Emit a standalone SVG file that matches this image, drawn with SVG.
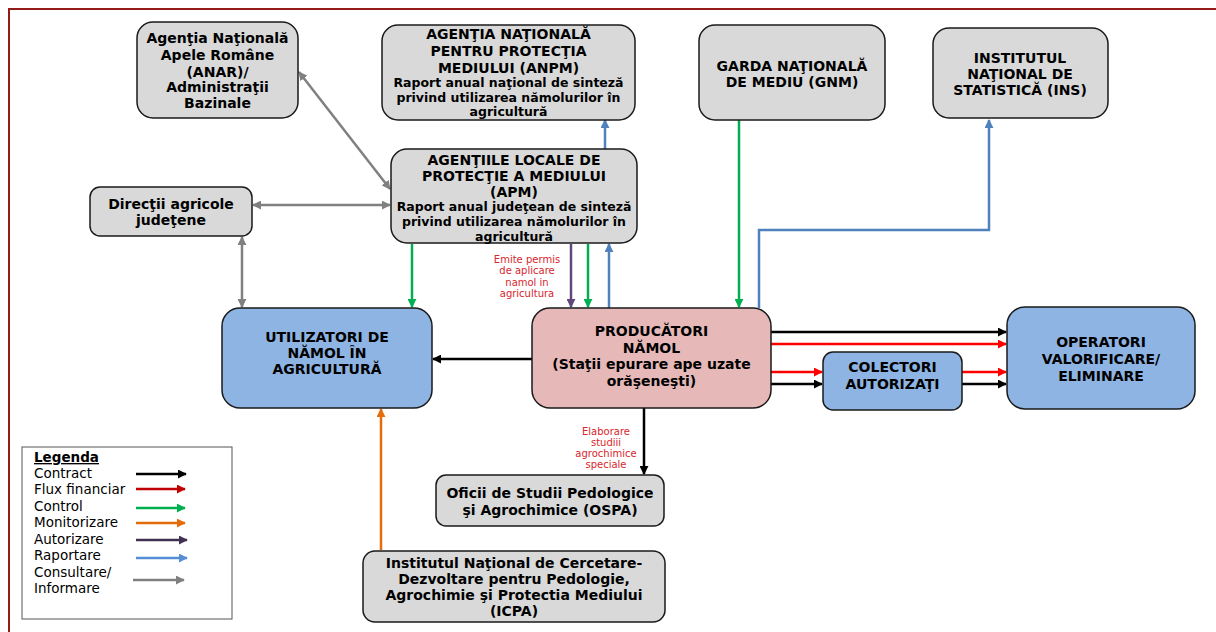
<svg xmlns="http://www.w3.org/2000/svg" width="1216" height="632" viewBox="0 0 1216 632">
  <style>
    .box { stroke: #1a1a1a; stroke-width: 1.5; }
    .grey { fill: #d9d9d9; }
    .blue { fill: #8eb4e3; }
    .pink { fill: #e6b9b8; }
    .t { font-family: "DejaVu Sans", Verdana, sans-serif; font-weight: bold; font-size: 14px; fill: #000; text-anchor: middle; }
    .s { font-family: "DejaVu Sans", Verdana, sans-serif; font-weight: bold; font-size: 12.5px; fill: #000; text-anchor: middle; }
    .note { font-family: "DejaVu Sans", Verdana, sans-serif; font-size: 10px; fill: #d9262b; text-anchor: middle; }
    .leg { font-family: "DejaVu Sans", Verdana, sans-serif; font-size: 13.5px; fill: #000; }
    .c { fill: none; stroke-width: 2.5; }
    .k { stroke: #000; }
    .r { stroke: #ff0000; }
    .g { stroke: #00b050; }
    .o { stroke: #e46c0a; }
    .p { stroke: #5f497a; }
    .b { stroke: #4f81bd; }
    .y { stroke: #808080; }
  </style>
  <defs>
    <marker id="ak" viewBox="0 0 10 10" refX="9" refY="5" markerWidth="9" markerHeight="9" markerUnits="userSpaceOnUse" orient="auto-start-reverse"><path d="M0,0 L10,5 L0,10 z" fill="#000"/></marker>
    <marker id="ar" viewBox="0 0 10 10" refX="9" refY="5" markerWidth="9" markerHeight="9" markerUnits="userSpaceOnUse" orient="auto-start-reverse"><path d="M0,0 L10,5 L0,10 z" fill="#ff0000"/></marker>
    <marker id="ar2" viewBox="0 0 10 10" refX="9" refY="5" markerWidth="9" markerHeight="9" markerUnits="userSpaceOnUse" orient="auto-start-reverse"><path d="M0,0 L10,5 L0,10 z" fill="#c00000"/></marker>
    <marker id="ag" viewBox="0 0 10 10" refX="9" refY="5" markerWidth="9" markerHeight="9" markerUnits="userSpaceOnUse" orient="auto-start-reverse"><path d="M0,0 L10,5 L0,10 z" fill="#00b050"/></marker>
    <marker id="ao" viewBox="0 0 10 10" refX="9" refY="5" markerWidth="9" markerHeight="9" markerUnits="userSpaceOnUse" orient="auto-start-reverse"><path d="M0,0 L10,5 L0,10 z" fill="#e46c0a"/></marker>
    <marker id="ap" viewBox="0 0 10 10" refX="9" refY="5" markerWidth="9" markerHeight="9" markerUnits="userSpaceOnUse" orient="auto-start-reverse"><path d="M0,0 L10,5 L0,10 z" fill="#5f497a"/></marker>
    <marker id="ap2" viewBox="0 0 10 10" refX="9" refY="5" markerWidth="9" markerHeight="9" markerUnits="userSpaceOnUse" orient="auto-start-reverse"><path d="M0,0 L10,5 L0,10 z" fill="#403152"/></marker>
    <marker id="ab" viewBox="0 0 10 10" refX="9" refY="5" markerWidth="9" markerHeight="9" markerUnits="userSpaceOnUse" orient="auto-start-reverse"><path d="M0,0 L10,5 L0,10 z" fill="#4f81bd"/></marker>
    <marker id="ab2" viewBox="0 0 10 10" refX="9" refY="5" markerWidth="9" markerHeight="9" markerUnits="userSpaceOnUse" orient="auto-start-reverse"><path d="M0,0 L10,5 L0,10 z" fill="#558ed5"/></marker>
    <marker id="ay" viewBox="0 0 10 10" refX="9" refY="5" markerWidth="9" markerHeight="9" markerUnits="userSpaceOnUse" orient="auto-start-reverse"><path d="M0,0 L10,5 L0,10 z" fill="#808080"/></marker>
  </defs>

  <rect width="1216" height="632" fill="#fff"/>
  <!-- page frame -->
  <path d="M9,632 L9,9 L1216,9" fill="none" stroke="#951b1b" stroke-width="2"/>

  <!-- connectors -->
  <g id="connectors">
    <!-- consultation / information -->
    <line class="c y" x1="299" y1="72" x2="390" y2="189" marker-start="url(#ay)" marker-end="url(#ay)"/>
    <line class="c y" x1="253" y1="205" x2="390" y2="205" marker-start="url(#ay)" marker-end="url(#ay)"/>
    <line class="c y" x1="242" y1="237" x2="242" y2="307" marker-start="url(#ay)" marker-end="url(#ay)"/>
    <!-- control -->
    <line class="c g" x1="412" y1="244" x2="412" y2="307" marker-end="url(#ag)"/>
    <line class="c g" x1="588" y1="244" x2="588" y2="307" marker-end="url(#ag)"/>
    <line class="c g" x1="739" y1="120" x2="739" y2="307" marker-end="url(#ag)"/>
    <!-- authorisation -->
    <line class="c p" x1="571" y1="244" x2="571" y2="307" marker-end="url(#ap)"/>
    <!-- reporting -->
    <line class="c b" x1="609" y1="308" x2="609" y2="244" marker-end="url(#ab)"/>
    <line class="c b" x1="605" y1="149" x2="605" y2="120" marker-end="url(#ab)"/>
    <path class="c b" d="M759,308 L759,230 L989,230 L989,120" stroke-width="2" marker-end="url(#ab)"/>
    <!-- contracts -->
    <line class="c k" x1="532" y1="359" x2="433" y2="359" marker-end="url(#ak)"/>
    <line class="c k" x1="771" y1="332" x2="1006" y2="332" marker-end="url(#ak)"/>
    <line class="c k" x1="771" y1="384" x2="822" y2="384" marker-end="url(#ak)"/>
    <line class="c k" x1="962" y1="384" x2="1006" y2="384" marker-end="url(#ak)"/>
    <line class="c k" x1="644" y1="408" x2="644" y2="474" marker-end="url(#ak)"/>
    <!-- financial flows -->
    <line class="c r" x1="771" y1="344" x2="1006" y2="344" marker-end="url(#ar)"/>
    <line class="c r" x1="771" y1="372" x2="822" y2="372" marker-end="url(#ar)"/>
    <line class="c r" x1="962" y1="372" x2="1006" y2="372" marker-end="url(#ar)"/>
    <!-- monitoring -->
    <line class="c o" x1="381" y1="550" x2="381" y2="409" marker-end="url(#ao)"/>
    <!-- connector labels -->
    <text class="note" x="527" y="263">Emite permis</text>
    <text class="note" x="527" y="274">de aplicare</text>
    <text class="note" x="527" y="286">namol in</text>
    <text class="note" x="527" y="297">agricultura</text>
    <text class="note" x="606" y="435">Elaborare</text>
    <text class="note" x="606" y="446">studiii</text>
    <text class="note" x="606" y="457">agrochimice</text>
    <text class="note" x="606" y="468">speciale</text>
  </g>

  <!-- nodes -->
  <g id="anar">
    <rect class="box grey" x="137" y="22" width="161" height="96" rx="16"/>
    <text class="t" x="217.5" y="43">Agenţia Naţională</text>
    <text class="t" x="217.5" y="60">Apele Române</text>
    <text class="t" x="217.5" y="77">(ANAR)/</text>
    <text class="t" x="217.5" y="92">Administraţii</text>
    <text class="t" x="217.5" y="108">Bazinale</text>
  </g>

  <g id="anpm">
    <rect class="box grey" x="382" y="25" width="253" height="95" rx="16"/>
    <text class="t" x="508.5" y="39">AGENŢIA NAŢIONALĂ</text>
    <text class="t" x="508.5" y="56">PENTRU PROTECŢIA</text>
    <text class="t" x="508.5" y="73">MEDIULUI (ANPM)</text>
    <text class="s" x="508.5" y="87">Raport anual naţional de sinteză</text>
    <text class="s" x="508.5" y="102">privind utilizarea nămolurilor în</text>
    <text class="s" x="508.5" y="116">agricultură</text>
  </g>

  <g id="gnm">
    <rect class="box grey" x="699" y="25" width="186" height="95" rx="16"/>
    <text class="t" x="792" y="71">GARDA NAŢIONALĂ</text>
    <text class="t" x="792" y="87">DE MEDIU (GNM)</text>
  </g>

  <g id="ins">
    <rect class="box grey" x="933" y="28" width="175" height="90" rx="16"/>
    <text class="t" x="1020" y="63">INSTITUTUL</text>
    <text class="t" x="1020" y="79">NAŢIONAL DE</text>
    <text class="t" x="1020" y="95">STATISTICĂ (INS)</text>
  </g>

  <g id="directii">
    <rect class="box grey" x="90" y="187" width="162" height="49" rx="10"/>
    <text class="t" x="171" y="209">Direcţii agricole</text>
    <text class="t" x="171" y="225">judeţene</text>
  </g>

  <g id="apm">
    <rect class="box grey" x="391" y="149" width="246" height="94" rx="16"/>
    <text class="t" x="514" y="165">AGENŢIILE LOCALE DE</text>
    <text class="t" x="514" y="181">PROTECŢIE A MEDIULUI</text>
    <text class="t" x="514" y="197">(APM)</text>
    <text class="s" x="514" y="211">Raport anual judeţean de sinteză</text>
    <text class="s" x="514" y="226">privind utilizarea nămolurilor în</text>
    <text class="s" x="514" y="241">agricultură</text>
  </g>

  <g id="utilizatori">
    <rect class="box blue" x="222" y="308" width="210" height="100" rx="18"/>
    <text class="t" x="327" y="342">UTILIZATORI DE</text>
    <text class="t" x="327" y="358">NĂMOL ÎN</text>
    <text class="t" x="327" y="374">AGRICULTURĂ</text>
  </g>

  <g id="producatori">
    <rect class="box pink" x="532" y="308" width="239" height="100" rx="18"/>
    <text class="t" x="651.5" y="336">PRODUCĂTORI</text>
    <text class="t" x="651.5" y="353">NĂMOL</text>
    <text class="t" x="651.5" y="369">(Staţii epurare ape uzate</text>
    <text class="t" x="651.5" y="386">orăşeneşti)</text>
  </g>

  <g id="colectori">
    <rect class="box blue" x="823" y="352" width="139" height="58" rx="10"/>
    <text class="t" x="892.5" y="372">COLECTORI</text>
    <text class="t" x="892.5" y="389">AUTORIZAŢI</text>
  </g>

  <g id="operatori">
    <rect class="box blue" x="1007" y="307" width="188" height="102" rx="18"/>
    <text class="t" x="1101" y="347">OPERATORI</text>
    <text class="t" x="1101" y="364">VALORIFICARE/</text>
    <text class="t" x="1101" y="381">ELIMINARE</text>
  </g>

  <g id="ospa">
    <rect class="box grey" x="436" y="475" width="228" height="51" rx="10"/>
    <text class="t" x="550" y="498">Oficii de Studii Pedologice</text>
    <text class="t" x="550" y="515">şi Agrochimice (OSPA)</text>
  </g>

  <g id="icpa">
    <rect class="box grey" x="363" y="551" width="302" height="71" rx="12"/>
    <text class="t" x="514" y="568">Institutul Naţional de Cercetare-</text>
    <text class="t" x="514" y="584">Dezvoltare pentru Pedologie,</text>
    <text class="t" x="514" y="600">Agrochimie şi Protectia Mediului</text>
    <text class="t" x="514" y="616">(ICPA)</text>
  </g>

  <!-- legend -->
  <g id="legend">
    <rect x="22" y="447" width="210" height="172" fill="#fff" stroke="#555" stroke-width="1"/>
    <text class="leg" x="34" y="462" font-weight="bold" text-decoration="underline">Legenda</text>
    <text class="leg" x="34" y="478">Contract</text>
    <text class="leg" x="34" y="494">Flux financiar</text>
    <text class="leg" x="34" y="511">Control</text>
    <text class="leg" x="34" y="527">Monitorizare</text>
    <text class="leg" x="34" y="544">Autorizare</text>
    <text class="leg" x="34" y="560">Raportare</text>
    <text class="leg" x="34" y="577">Consultare/</text>
    <text class="leg" x="34" y="593">Informare</text>
    <line class="c k" x1="136" y1="474" x2="186" y2="474" marker-end="url(#ak)"/>
    <line class="c" stroke="#c00000" x1="136" y1="489" x2="185" y2="489" marker-end="url(#ar2)"/>
    <line class="c g" x1="136" y1="508" x2="185" y2="508" marker-end="url(#ag)"/>
    <line class="c o" x1="136" y1="523" x2="185" y2="523" marker-end="url(#ao)"/>
    <line class="c" stroke="#403152" x1="136" y1="540" x2="187" y2="540" marker-end="url(#ap2)"/>
    <line class="c" stroke="#558ed5" x1="136" y1="558" x2="187" y2="558" marker-end="url(#ab2)"/>
    <line class="c y" x1="133" y1="580" x2="184" y2="580" marker-end="url(#ay)"/>
  </g>
</svg>
